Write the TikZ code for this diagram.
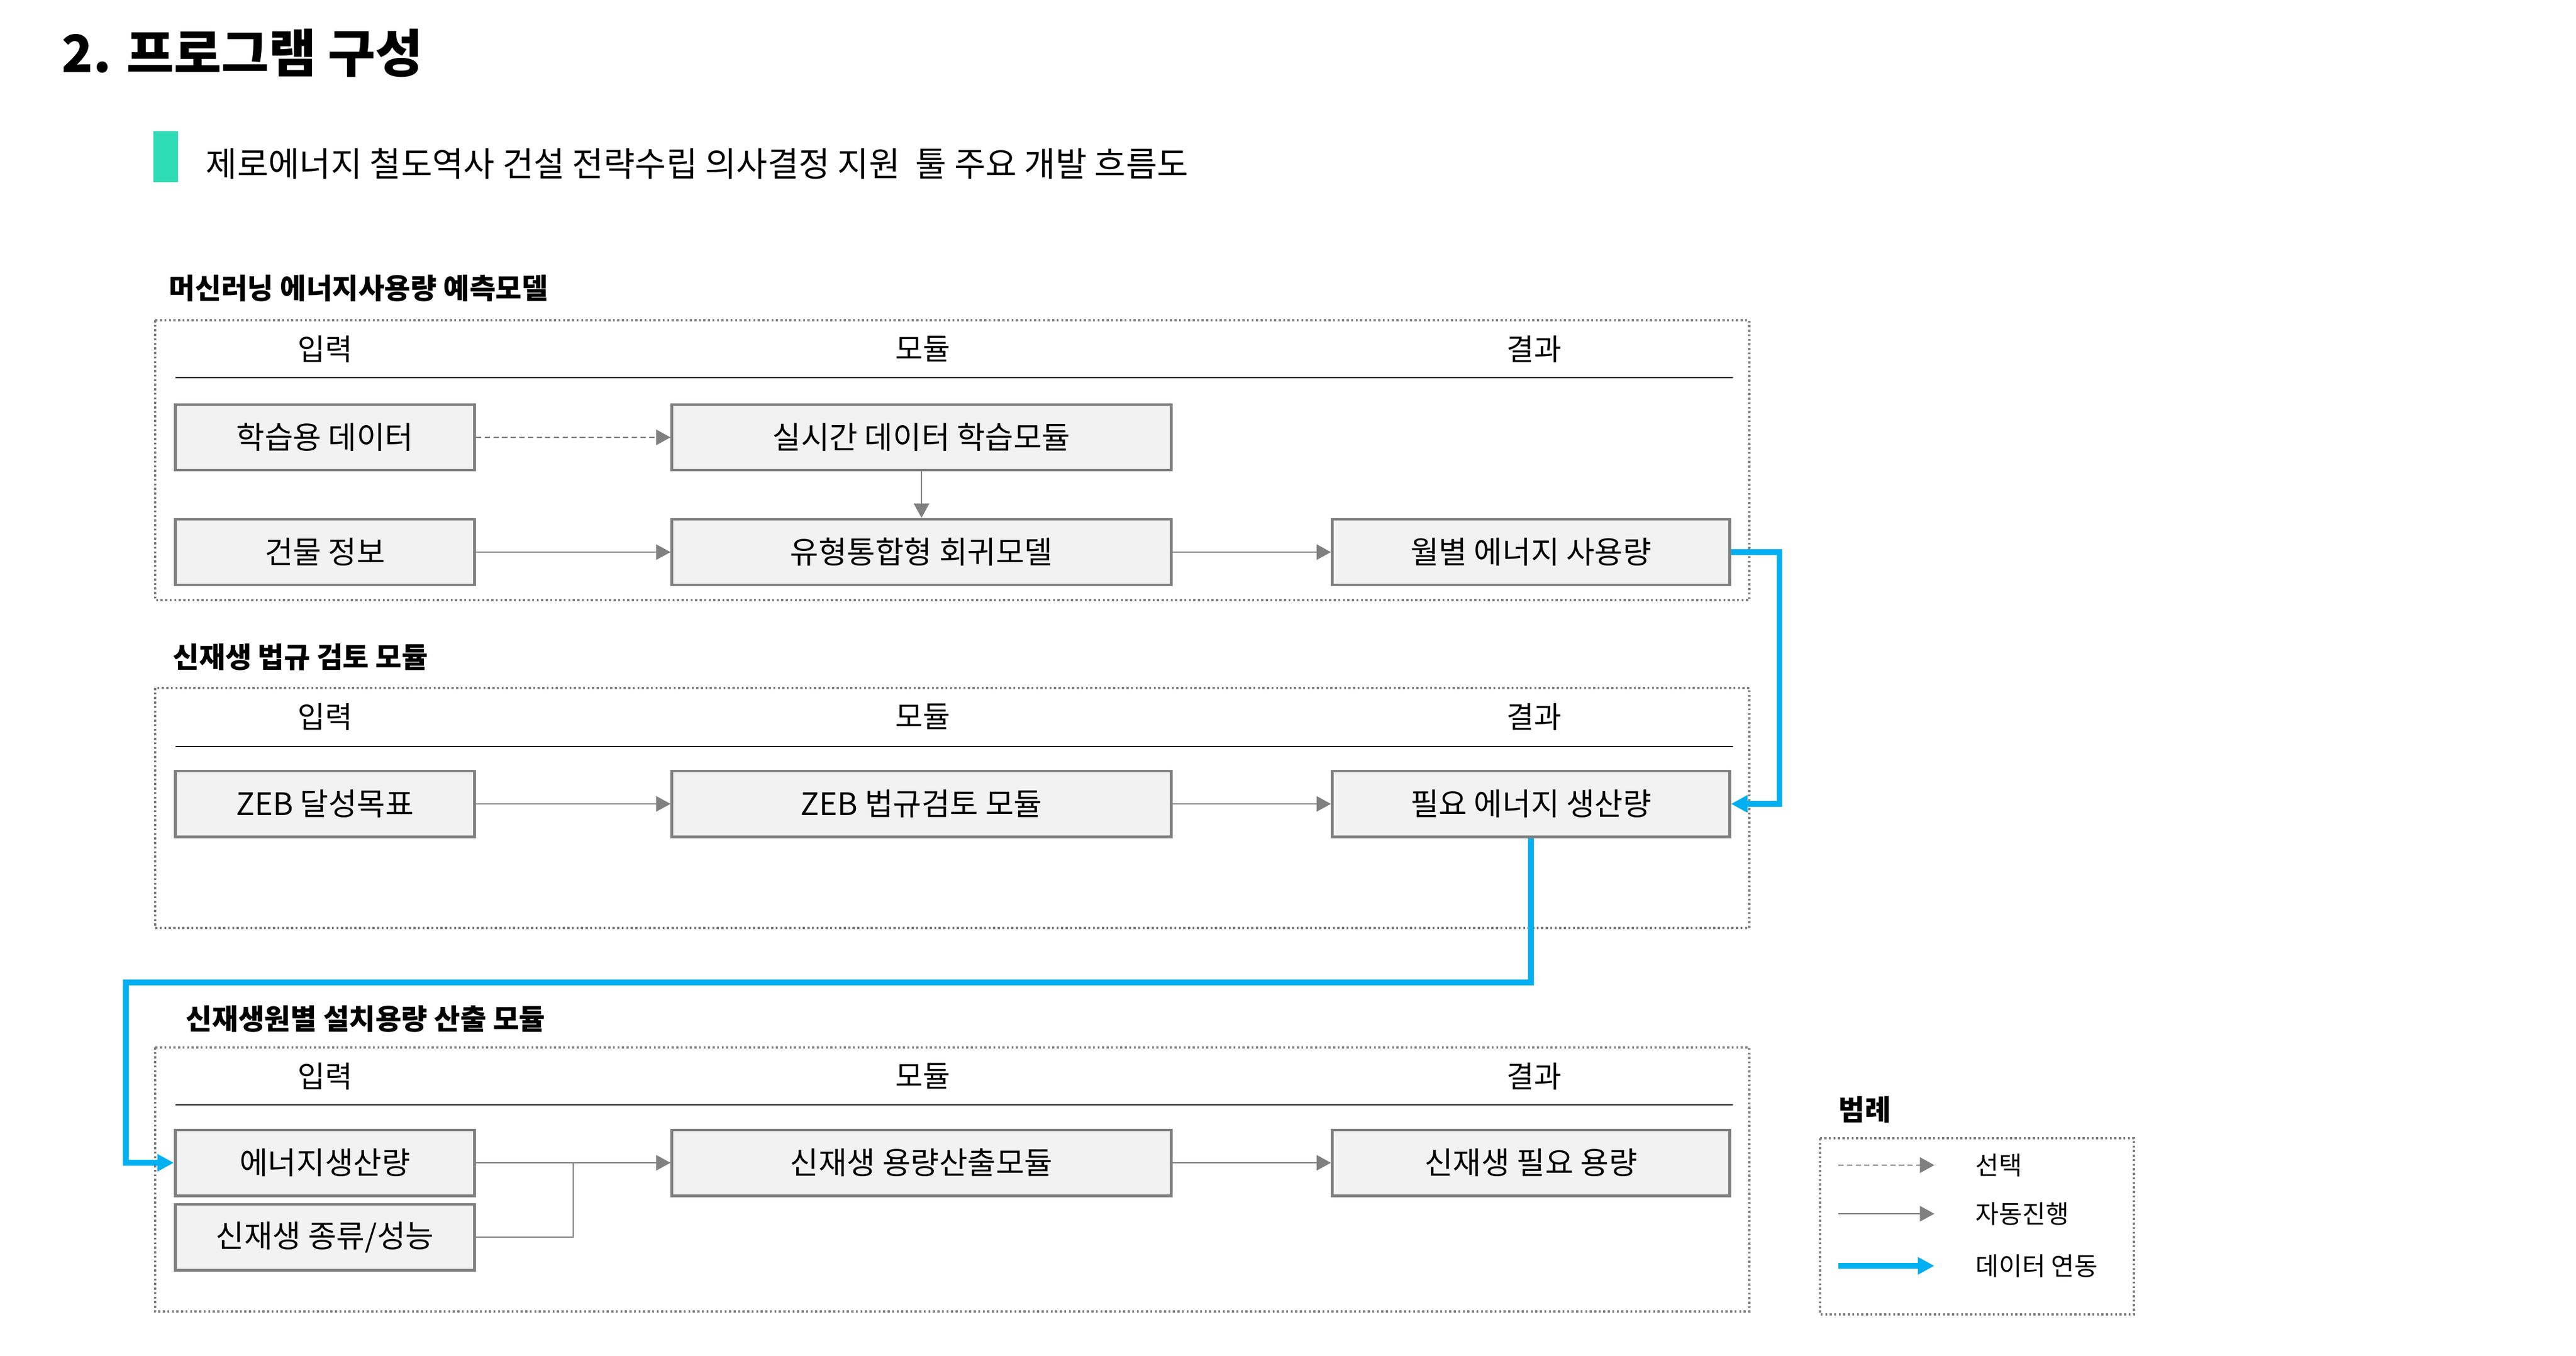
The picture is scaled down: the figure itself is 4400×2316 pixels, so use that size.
\documentclass[tikz,border=0pt]{standalone}
\usepackage{fontspec}
\setmainfont{Noto Sans CJK KR}
\usetikzlibrary{arrows.meta}
\usetikzlibrary{calc}
\definecolor{boxline}{HTML}{808080}
\definecolor{boxfill}{HTML}{F2F2F2}
\definecolor{linkblue}{HTML}{00B0F0}
\definecolor{barmint}{HTML}{2EDDB5}
\tikzstyle{block} = [
    rectangle,
    draw=boxline,
    fill=boxfill,
    line width=1.4pt,
    minimum height=1.12cm,
    inner sep=0pt,
    text centered,
    font=\fontsize{15}{17}\selectfont
]
\tikzstyle{inblk}  = [block, minimum width=5.11cm]
\tikzstyle{modblk} = [block, minimum width=8.52cm]
\tikzstyle{outblk} = [block, minimum width=6.78cm]
\tikzstyle{frame}  = [draw=boxline, line width=0.9pt, dash pattern=on 1pt off 1.2pt]
\tikzstyle{hdr}    = [inner sep=0pt, font=\fontsize{14.5}{17}\selectfont]
\tikzstyle{hline}  = [draw=black, line width=0.8pt]
\tikzstyle{sect}   = [inner sep=0pt, anchor=west, font=\bfseries\fontsize{13.8}{16}\selectfont]
\tikzstyle{leg}    = [inner sep=0pt, anchor=west, font=\fontsize{12.3}{14}\selectfont]
\tikzstyle{tran}   = [
    draw=boxline,
    line width=0.6pt,
    -{Triangle[length=7pt,width=7.5pt]}
]
\tikzstyle{choice} = [tran, line width=0.8pt, dash pattern=on 2.6pt off 1.6pt]
\tikzstyle{link}   = [
    draw=linkblue,
    line width=2.7pt,
    -{Triangle[length=8pt,width=8pt]}
]

\begin{document}
\begin{tikzpicture}[x=0.01cm, y=-0.01cm]
\useasboundingbox (0,0) rectangle (4400,2316);

% title
\node[anchor=west, inner sep=0pt, font=\bfseries\fontsize{25}{29}\selectfont] (title) at (105,91) {2. 프로그램 구성};
\fill[barmint] (262,224) rectangle (304,311);
\node[anchor=west, inner sep=0pt, font=\fontsize{16.5}{19}\selectfont] (subtitle) at (351,280)
{제로에너지 철도역사 건설 전략수립 의사결정 지원~ 툴 주요 개발 흐름도};

% machine learning model
\node[sect] (sec1) at (288,492) {머신러닝 에너지사용량 예측모델};
\draw[frame] (265,547) rectangle (2988,1025);
\node[hdr] (in1)  at (555,596)  {입력};
\node[hdr] (mod1) at (1576,596) {모듈};
\node[hdr] (res1) at (2620,596) {결과};
\draw[hline] (300,645) -- (2960,645);

\node[inblk]  (learn)   at (555,747)  {학습용 데이터};
\node[modblk] (rtmod)   at (1574,747) {실시간 데이터 학습모듈};
\node[inblk]  (bldg)    at (555,943)  {건물 정보};
\node[modblk] (regmod)  at (1574,943) {유형통합형 회귀모델};
\node[outblk] (monthly) at (2615,943) {월별 에너지 사용량};

\draw[choice] (learn)  -- (rtmod);
\draw[tran]   (rtmod)  -- (regmod);
\draw[tran]   (bldg)   -- (regmod);
\draw[tran]   (regmod) -- (monthly);

% regulation check
\node[sect] (sec2) at (295,1122) {신재생 법규 검토 모듈};
\draw[frame] (265,1175) rectangle (2988,1585);
\node[hdr] (in2)  at (555,1224)  {입력};
\node[hdr] (mod2) at (1576,1224) {모듈};
\node[hdr] (res2) at (2620,1224) {결과};
\draw[hline] (300,1275) -- (2960,1275);

\node[inblk]  (zebgoal)  at (555,1373)  {ZEB 달성목표};
\node[modblk] (zebmod)   at (1574,1373) {ZEB 법규검토 모듈};
\node[outblk] (needprod) at (2615,1373) {필요 에너지 생산량};

\draw[tran] (zebgoal) -- (zebmod);
\draw[tran] (zebmod)  -- (needprod);

% capacity per source
\node[sect] (sec3) at (317,1740) {신재생원별 설치용량 산출 모듈};
\draw[frame] (265,1789) rectangle (2988,2240);
\node[hdr] (in3)  at (555,1838)  {입력};
\node[hdr] (mod3) at (1576,1838) {모듈};
\node[hdr] (res3) at (2620,1838) {결과};
\draw[hline] (300,1887) -- (2960,1887);

\node[inblk]  (eprod)   at (555,1986)  {에너지생산량};
\node[inblk]  (kind)    at (555,2113)  {신재생 종류/성능};
\node[modblk] (capmod)  at (1574,1986) {신재생 용량산출모듈};
\node[outblk] (needcap) at (2615,1986) {신재생 필요 용량};

\coordinate (join) at ($(eprod.east)!0.5!(capmod.west)$);
\draw[tran]   (eprod)  -- (capmod);
\draw[tran,-] (kind.east) -| (join);
\draw[tran]   (capmod) -- (needcap);

% data links
\coordinate (bend) at (215,1678);
\draw[link] (monthly.east) -- ++(83,0) |- (needprod.east);
\draw[link] (needprod.south) |- (bend) |- (eprod.west);

% legend
\node[sect] (legtitle) at (3140,1895) {범례};
\draw[frame] (3109,1944) rectangle (3645,2245);
\coordinate (l1a) at (3140,1990);
\coordinate (l1b) at (3304,1990);
\coordinate (l2a) at (3140,2073);
\coordinate (l2b) at (3304,2073);
\coordinate (l3a) at (3140,2162);
\coordinate (l3b) at (3304,2162);
\draw[choice] (l1a) -- (l1b);
\draw[tran]   (l2a) -- (l2b);
\draw[link]   (l3a) -- (l3b);
\node[leg] (l1t) at (3374,1990) {선택};
\node[leg] (l2t) at (3374,2073) {자동진행};
\node[leg] (l3t) at (3374,2162) {데이터 연동};
\end{tikzpicture}
\end{document}
